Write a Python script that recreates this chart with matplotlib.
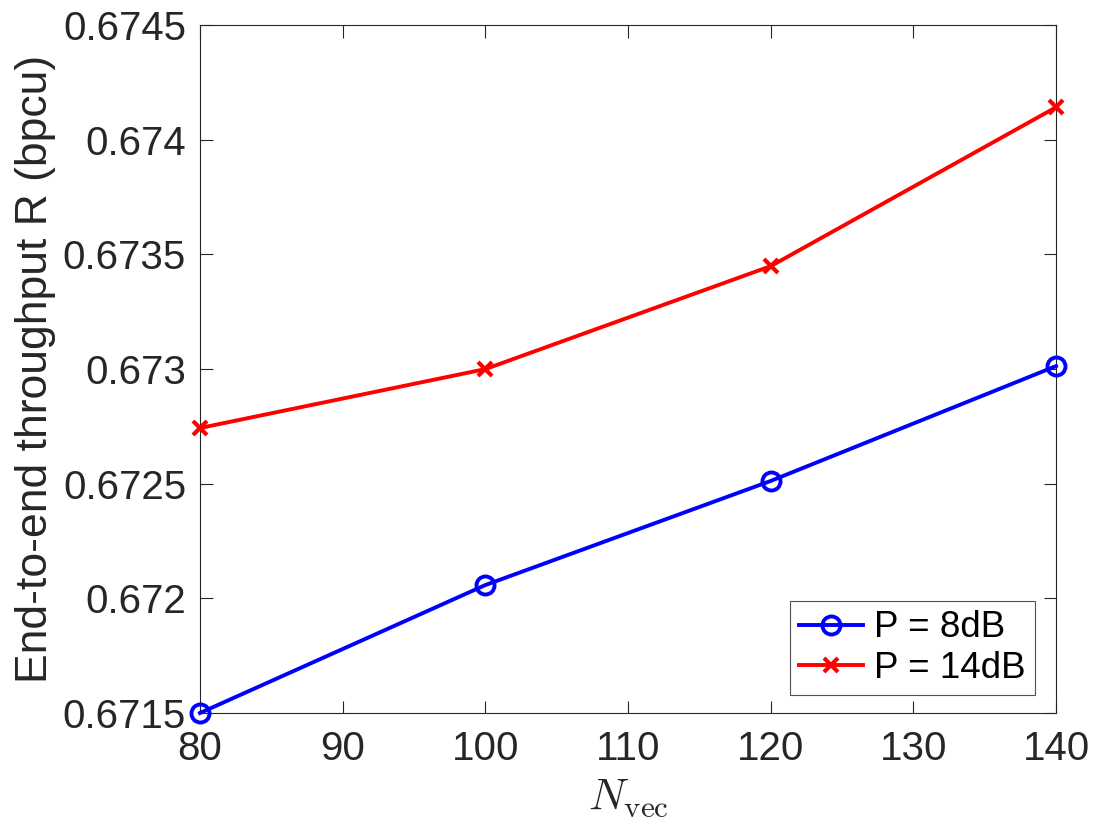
import matplotlib

matplotlib.use("Agg")
import matplotlib.pyplot as plt

N_VEC = [80, 100, 120, 140]
RATE_8DB = [0.67150, 0.672058, 0.672512, 0.673013]
RATE_14DB = [0.672743, 0.673000, 0.673449, 0.674142]
LABELS = ["P = 8dB", "P = 14dB"]
X_TICKS = [80, 90, 100, 110, 120, 130, 140]
Y_TICKS = [0.6715, 0.672, 0.6725, 0.673, 0.6735, 0.674, 0.6745]
Y_TICK_LABELS = ["0.6715", "0.672", "0.6725", "0.673", "0.6735", "0.674", "0.6745"]

plt.rcParams["font.family"] = ["Liberation Sans", "DejaVu Sans"]
plt.rcParams["mathtext.fontset"] = "cm"

fig = plt.figure(figsize=(11.13, 8.4), dpi=100)
ax = fig.add_axes([0.1797, 0.1512, 0.9488 - 0.1797, 0.970 - 0.1512])

ax.plot(N_VEC, RATE_8DB, color="#0000ff", linewidth=2.8, marker="o",
        markersize=13, markerfacecolor="none", markeredgewidth=2.8,
        label=LABELS[0], clip_on=False, zorder=3)
ax.plot(N_VEC, RATE_14DB, color="#ff0000", linewidth=2.8, marker="x",
        markersize=10.5, markeredgewidth=3, label=LABELS[1],
        clip_on=False, zorder=3)

ax.set_xlim(80, 140)
ax.set_ylim(0.6715, 0.6745)
ax.set_xticks(X_TICKS)
ax.set_yticks(Y_TICKS)
ax.set_yticklabels(Y_TICK_LABELS)
ax.tick_params(direction="in", top=True, right=True, length=9, width=0.8,
               labelsize=29, colors="#262626")
ax.tick_params(axis="x", pad=12)
ax.tick_params(axis="y", pad=10)
for spine in ax.spines.values():
    spine.set_color("#262626")
    spine.set_linewidth(0.8)

ax.set_xlabel(r"$N_{\rm vec}$", fontsize=32, color="#262626", labelpad=7)
ax.set_ylabel("End-to-end throughput R (bpcu)", fontsize=32, color="#262626",
              labelpad=5)

leg = ax.legend(loc="lower right", fontsize=26.5, frameon=True, fancybox=False,
                edgecolor="#262626", handlelength=1.75, borderpad=0.25,
                labelspacing=0.15, handletextpad=0.3, borderaxespad=0,
                bbox_to_anchor=(0.9755, 0.026))
leg.get_frame().set_linewidth(0.8)

fig.savefig("out.png", dpi=100)
